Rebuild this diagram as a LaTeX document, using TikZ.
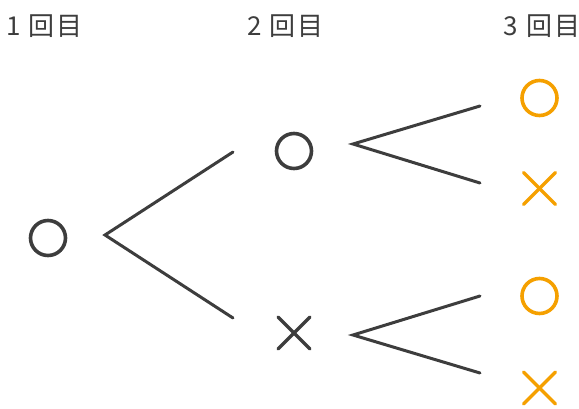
\documentclass[tikz,border=0pt]{standalone}
\usepackage{fontspec}
\usetikzlibrary{calc}
\newfontfamily\jpfont{Noto Sans CJK JP}
\definecolor{ink}{HTML}{3D3D3D}
\definecolor{orng}{HTML}{F5A000}
\newcommand\cj[1]{\makebox[28pt]{#1}}
\begin{document}
\begin{tikzpicture}[x=1pt,y=-1pt,
  lbl/.style={font=\jpfont\fontsize{26}{26}\selectfont, text=ink, anchor=west, inner sep=0pt},
  edge/.style={draw=ink, line width=3pt, line cap=round, line join=miter},
  maru/.style={circle, draw=#1, line width=3.6pt, minimum size=35pt, inner sep=0pt},
  batsu/.style={draw=#1, line width=3.4pt, line cap=round},
]
\useasboundingbox (0,0) rectangle (579,408);
% labels
\node[lbl] (l1) at (-0.5,26) {\cj{1}\cj{回}\cj{目}};
\node[lbl] (l2) at (240.5,26) {\cj{2}\cj{回}\cj{目}};
\node[lbl] (l3) at (497,26) {\cj{3}\cj{回}\cj{目}};
% level 1
\node[maru=ink] (a) at (48,238) {};
\coordinate (a0) at (105,235);
\coordinate (a1) at (233,152);
\coordinate (a2) at (233,318);
\draw[edge] (a1) -- (a0) -- (a2);
% level 2
\node[maru=ink] (b1) at (294,151) {};
\coordinate (b1c) at (294,333);
\draw[batsu=ink] ($(b1c)+(-16,-16)$) -- ($(b1c)+(16,16)$);
\draw[batsu=ink] ($(b1c)+(-16,16)$) -- ($(b1c)+(16,-16)$);
\coordinate (b10) at (353,144);
\coordinate (b11) at (480,106);
\coordinate (b12) at (480,183);
\draw[edge] (b11) -- (b10) -- (b12);
\coordinate (b20) at (353,335);
\coordinate (b21) at (480,296);
\coordinate (b22) at (480,373);
\draw[edge] (b21) -- (b20) -- (b22);
% level 3
\node[maru=orng] (c1) at (539.5,98) {};
\coordinate (c2) at (539.5,188.5);
\draw[batsu=orng] ($(c2)+(-16,-16)$) -- ($(c2)+(16,16)$);
\draw[batsu=orng] ($(c2)+(-16,16)$) -- ($(c2)+(16,-16)$);
\node[maru=orng] (c3) at (539.5,296) {};
\coordinate (c4) at (539.5,388);
\draw[batsu=orng] ($(c4)+(-16,-16)$) -- ($(c4)+(16,16)$);
\draw[batsu=orng] ($(c4)+(-16,16)$) -- ($(c4)+(16,-16)$);
\end{tikzpicture}
\end{document}
